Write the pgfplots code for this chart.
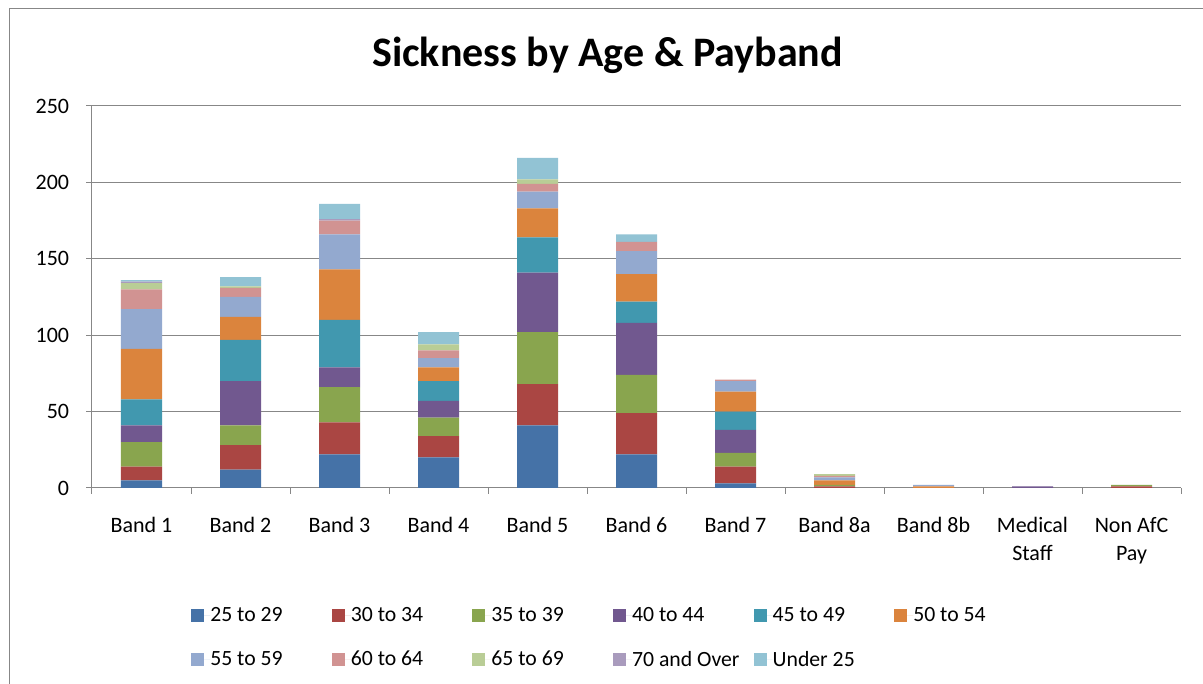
\documentclass[border=0pt]{standalone}
\usepackage{fontspec}
\setmainfont{Carlito}
\usepackage{pgfplots}
\pgfplotsset{compat=1.18}
\usepackage{pgfplotstable}

\definecolor{cA}{HTML}{4572A7}
\definecolor{cB}{HTML}{AA4643}
\definecolor{cC}{HTML}{89A54E}
\definecolor{cD}{HTML}{71588F}
\definecolor{cE}{HTML}{4198AF}
\definecolor{cF}{HTML}{DB843D}
\definecolor{cG}{HTML}{93A9CF}
\definecolor{cH}{HTML}{D19392}
\definecolor{cI}{HTML}{B9CD96}
\definecolor{cJ}{HTML}{A99BBD}
\definecolor{cK}{HTML}{92C3D4}
\definecolor{gridgray}{HTML}{878787}

% x: 0 Band 1, 1 Band 2, ..., 10 Non AfC Pay
\pgfplotstableread{
x  a   b   c   d   e   f   g   h   i   j   k
0  5   9   16  11  17  33  26  13  4   1   1
1  12  16  13  29  27  15  13  6   1   0   6
2  22  21  23  13  31  33  23  9   0   1   10
3  20  14  12  11  13  9   6   5   4   0   8
4  41  27  34  39  23  19  11  5   3   0   14
5  22  27  25  34  14  18  15  6   0   0   5
6  3   11  9   15  12  13  7   1   0   0   0
7  0   1   1   0   0   3   2   1   1   0   0
8  0   0   0   0   0   1   1   0   0   0   0
9  0   0   0   1   0   0   0   0   0   0   0
10 0   1   1   0   0   0   0   0   0   0   0
}\data

\begin{document}
\begin{tikzpicture}
\useasboundingbox (-69pt,-147pt) rectangle (833.25pt,366pt);
\draw[color=gridgray, line width=0.75pt] (-61.5pt,-160pt) -- (-61.5pt,359.25pt) -- (850pt,359.25pt);
\begin{axis}[
  at={(0pt,0pt)}, anchor=south west,
  scale only axis, width=816.75pt, height=286.5pt,
  xmin=-0.5, xmax=10.5, ymin=0, ymax=250,
  ybar stacked, bar width=30.75pt,
  ytick={0,50,...,250},
  ymajorgrids, grid style={color=gridgray, line width=0.75pt},
  axis x line*=bottom, axis y line*=left,
  axis line style={color=gridgray, line width=0.75pt},
  tick align=outside, major tick length=4.5pt,
  tick style={color=gridgray, line width=0.75pt},
  xtick={-0.5,0.5,...,10.5},
  x tick label as interval,
  xticklabels={Band 1,Band 2,Band 3,Band 4,Band 5,Band 6,Band 7,Band 8a,Band 8b,Medical\\Staff,Non AfC\\Pay},
  /pgf/number format/assume math mode=true,
  every tick label/.append style={font=\fontsize{16.5}{21}\selectfont, text=black},
  xticklabel style={align=center, anchor=north, inner sep=0pt, yshift=-17pt},
  yticklabel style={anchor=east, inner sep=0pt, xshift=-12.5pt},
  title={Sickness by Age \& Payband},
  title style={font=\fontsize{31.5}{36}\selectfont\bfseries, at={(0.4734,1.083)}, anchor=base, inner sep=0pt},
  legend columns=6,
  legend style={at={(0.0909,-0.3107)}, anchor=north west, draw=none, fill=none,
    inner sep=0pt, column sep=0pt, row sep=21pt, font=\fontsize{16.3}{19}\selectfont,
    nodes={inner sep=0pt}},
  legend cell align=left,
  legend image code/.code={\fill[#1] (0pt,-4.875pt) rectangle (9.75pt,4.875pt); \path (0pt,0pt) -- (14.25pt,0pt);},
]
\addplot[fill=cA, draw=none] table[x=x,y=a]{\data};
\addlegendentry{\makebox[91.2pt][l]{25 to 29}}
\addplot[fill=cB, draw=none] table[x=x,y=b]{\data};
\addlegendentry{\makebox[91.2pt][l]{30 to 34}}
\addplot[fill=cC, draw=none] table[x=x,y=c]{\data};
\addlegendentry{\makebox[91.2pt][l]{35 to 39}}
\addplot[fill=cD, draw=none] table[x=x,y=d]{\data};
\addlegendentry{\makebox[91.2pt][l]{40 to 44}}
\addplot[fill=cE, draw=none] table[x=x,y=e]{\data};
\addlegendentry{\makebox[91.2pt][l]{45 to 49}}
\addplot[fill=cF, draw=none] table[x=x,y=f]{\data};
\addlegendentry{\makebox[91.2pt][l]{50 to 54}}
\addplot[fill=cG, draw=none] table[x=x,y=g]{\data};
\addlegendentry{\makebox[91.2pt][l]{55 to 59}}
\addplot[fill=cH, draw=none] table[x=x,y=h]{\data};
\addlegendentry{\makebox[91.2pt][l]{60 to 64}}
\addplot[fill=cI, draw=none] table[x=x,y=i]{\data};
\addlegendentry{\makebox[91.2pt][l]{65 to 69}}
\addplot[fill=cJ, draw=none] table[x=x,y=j]{\data};
\addlegendentry{\makebox[91.2pt][l]{70 and Over}}
\addplot[fill=cK, draw=none] table[x=x,y=k]{\data};
\addlegendentry{\makebox[91.2pt][l]{Under 25}}
\end{axis}
\end{tikzpicture}
\end{document}
